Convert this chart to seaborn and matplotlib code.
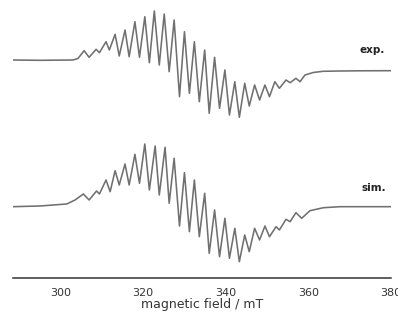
import numpy as np
import pandas as pd
import seaborn as sns
import matplotlib.pyplot as plt
from matplotlib.ticker import MultipleLocator

# field positions (mT) and signal (arb. units)
exp_field = [288.4, 295.0, 303.0, 304.2, 305.7, 306.9, 308.6, 309.4, 311.0, 311.8,
             313.2, 314.2, 315.6, 316.6, 318.0, 319.1, 320.4, 321.5, 322.7, 323.9,
             325.1, 326.3, 327.5, 328.8, 330.0, 331.2, 332.4, 333.6, 334.9, 336.0,
             337.3, 338.5, 339.8, 340.9, 342.2, 343.3, 344.6, 345.7, 347.0, 348.2,
             349.5, 350.6, 351.9, 353.0, 354.6, 355.6, 357.0, 358.0, 359.2, 361.2,
             363.6, 367.7, 372.6, 380.0]
exp_signal = [0, -0.3, 0, 1.5, 9.3, 2.7, 10.7, 7.3, 18.3, 10,
              25.7, 4, 30, 3.3, 38.3, 2.7, 43.3, -2.7, 49, -5,
              46, -11.7, 40, -36.7, 28.3, -33.3, 18.3, -41.7, 10, -53.3,
              2.7, -48.3, -10, -55, -21.7, -57.3, -23.3, -46, -25, -40,
              -25, -36.7, -21.7, -28.3, -20, -22.7, -18.3, -21.7, -15, -12.5,
              -11.3, -11, -10.8, -10.7]

sim_field = [288.4, 295.0, 301.5, 303.5, 305.5, 306.9, 308.7, 309.4, 311.0, 312.0,
             313.2, 314.2, 315.6, 316.6, 318.0, 319.1, 320.4, 321.5, 322.9, 323.9,
             325.3, 326.3, 327.5, 328.8, 330.0, 331.2, 332.4, 333.6, 334.9, 336.0,
             337.3, 338.5, 339.8, 340.9, 342.2, 343.3, 344.6, 345.7, 347.0, 348.2,
             349.5, 350.6, 352.2, 353.0, 354.6, 355.6, 357.0, 358.4, 360.4, 363.7,
             367.7, 380.0]
sim_signal = [0, 0.7, 2.7, 6.7, 12.7, 6.7, 15.7, 12.7, 26.7, 15,
              36, 21.7, 42.7, 21.7, 52.4, 23.4, 62.7, 16.7, 60.7, 11.7,
              59.4, 3.4, 48.4, -19.3, 34, -25, 26.7, -30, 13.4, -46.6,
              -3.3, -50, -11.6, -51.6, -21.6, -55, -28.3, -45, -21.6, -33.3,
              -19.3, -30, -20, -23.3, -12.6, -15, -6, -11.6, -4, -1,
              0, 0]

exp_offset = 218
sim_offset = 71.3

sns.set_style("white")
fig = plt.figure(figsize=(3.98, 3.21), dpi=100)
ax = fig.add_axes([0.032, 0.134, 0.95, 0.866])

df_exp = pd.DataFrame({"field": exp_field, "y": np.array(exp_signal) + exp_offset})
df_sim = pd.DataFrame({"field": sim_field, "y": np.array(sim_signal) + sim_offset})
for d in [df_exp, df_sim]:
    sns.lineplot(data=d, x="field", y="y", sort=False, estimator=None,
                 color="#707070", linewidth=1.15, ax=ax,
                 solid_joinstyle="round", solid_capstyle="round")

ax.text(375.5, 228, "exp.", ha="center", va="center", fontsize=7.5,
        fontweight="bold", color="#222222")
ax.text(375.8, 89.7, "sim.", ha="center", va="center", fontsize=7.5,
        fontweight="bold", color="#222222")

ax.set_xlim(288.4, 380)
ax.set_ylim(0, 278)
ax.xaxis.set_major_locator(MultipleLocator(20))
ax.xaxis.set_minor_locator(MultipleLocator(10))
ax.tick_params(axis="x", which="major", direction="in", length=3, width=1,
               color="#333333", labelsize=8, labelcolor="#333333", pad=7.5)
ax.tick_params(axis="x", which="minor", direction="in", length=2, width=1,
               color="#333333")
ax.set_yticks([])
ax.set_ylabel("")
ax.set_xlabel("magnetic field / mT", fontsize=9, color="#333333", labelpad=0)
for s in ["left", "right", "top"]:
    ax.spines[s].set_visible(False)
ax.spines["bottom"].set_color("#333333")
ax.spines["bottom"].set_linewidth(1.1)
ax.patch.set_alpha(0)

fig.savefig("out.png", dpi=100)
